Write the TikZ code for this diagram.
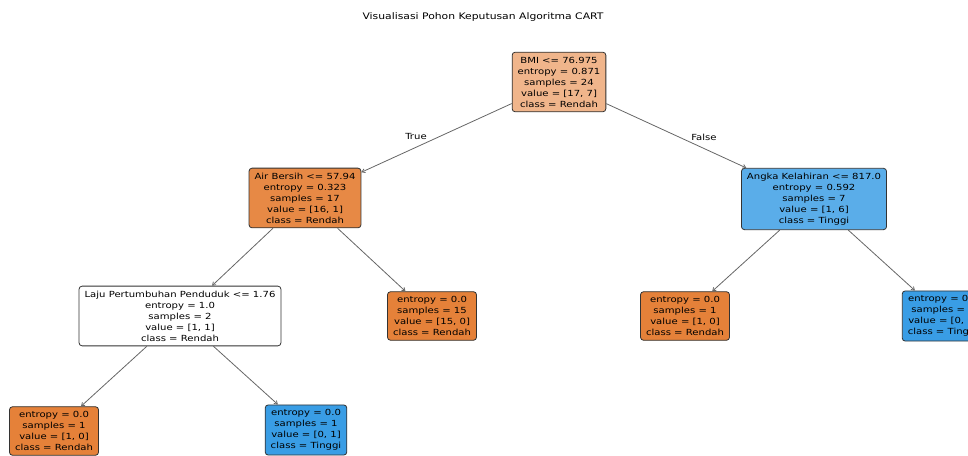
\documentclass[tikz,border=0pt]{standalone}
\usepackage{fontspec}
\setmainfont{DejaVu Sans}[FakeStretch=1.2]
\usetikzlibrary{arrows.meta}
\definecolor{rootc}{RGB}{240,181,139}
\definecolor{orA}{RGB}{231,137,69}
\definecolor{orP}{RGB}{229,129,57}
\definecolor{blA}{RGB}{90,173,233}
\definecolor{blP}{RGB}{57,157,229}
\tikzset{
  tnode/.style={rectangle, rounded corners=3pt, draw=black!80, line width=0.8pt,
    align=center, inner xsep=5.5pt, inner ysep=4.6pt,
    font=\fontsize{8.4}{11}\selectfont},
  edge/.style={draw=black!60, line width=0.8pt, -{Straight Barb[length=3pt,width=4pt]}},
  elabel/.style={font=\fontsize{8.4}{11}\selectfont}
}
\begin{document}
\begin{tikzpicture}[x=1pt,y=1pt]
\useasboundingbox (0,0) rectangle (968,455);
\clip (0,0) rectangle (968,455);
\node[font=\fontsize{9}{11}\selectfont] (title) at (483,438) {Visualisasi Pohon Keputusan Algoritma CART};
\node[tnode, fill=rootc] (root) at (559,373) {BMI <= 76.975\\entropy = 0.871\\samples = 24\\value = [17, 7]\\class = Rendah};
\node[tnode, fill=orA] (air) at (305,257) {Air Bersih <= 57.94\\entropy = 0.323\\samples = 17\\value = [16, 1]\\class = Rendah};
\node[tnode, fill=blA] (angka) at (814,256) {Angka Kelahiran <= 817.0\\entropy = 0.592\\samples = 7\\value = [1, 6]\\class = Tinggi};
\node[tnode, fill=white] (laju) at (180,139) {Laju Pertumbuhan Penduduk <= 1.76\\entropy = 1.0\\samples = 2\\value = [1, 1]\\class = Rendah};
\node[tnode, fill=orP] (leafa) at (432,139) {entropy = 0.0\\samples = 15\\value = [15, 0]\\class = Rendah};
\node[tnode, fill=orP] (leafb) at (685,139) {entropy = 0.0\\samples = 1\\value = [1, 0]\\class = Rendah};
\node[tnode, fill=blP] (leafc) at (943,139) {entropy = 0.0\\samples = 6\\value = [0, 6]\\class = Tinggi};
\node[tnode, fill=orP] (leafd) at (54,24) {entropy = 0.0\\samples = 1\\value = [1, 0]\\class = Rendah};
\node[tnode, fill=blP] (leafe) at (306,25) {entropy = 0.0\\samples = 1\\value = [0, 1]\\class = Tinggi};
\draw[edge] (root) -- (air);
\draw[edge] (root) -- (angka);
\draw[edge] (air) -- (laju);
\draw[edge] (air) -- (leafa);
\draw[edge] (angka) -- (leafb);
\draw[edge] (angka) -- (leafc);
\draw[edge] (laju) -- (leafd);
\draw[edge] (laju) -- (leafe);
\node[elabel] (ltrue) at (416,318) {True};
\node[elabel] (lfalse) at (704,318) {False};
\end{tikzpicture}
\end{document}
